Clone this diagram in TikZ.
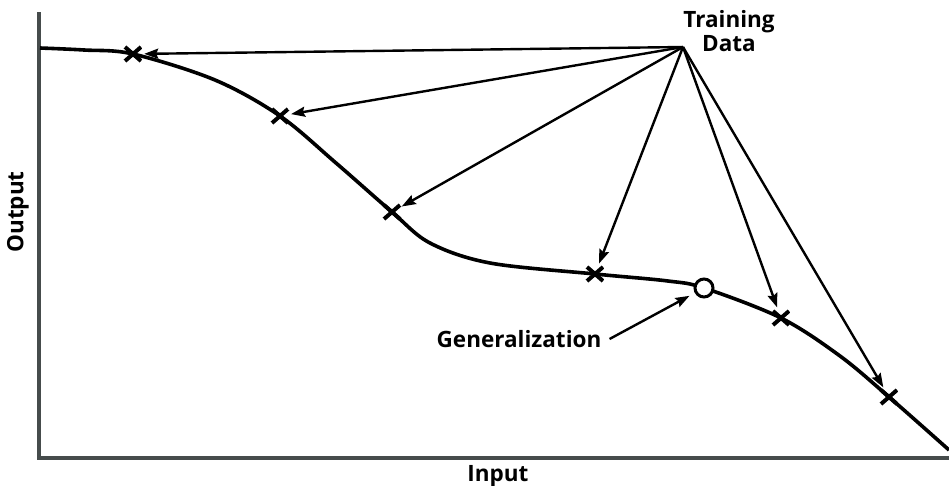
\documentclass[tikz,border=0pt]{standalone}
\usepackage{fontspec}
\setmainfont{Open Sans}
\usetikzlibrary{arrows.meta}
\definecolor{axisgray}{HTML}{464C4C}
\begin{document}
\begin{tikzpicture}[x=1pt, y=-1pt,
    every node/.style={inner sep=0.001, font=\bfseries\fontsize{22.5}{23}\selectfont},
    cross/.style={circle, minimum size=22pt, path picture={
        \draw[line width=4pt] ([shift={(-8,-7)}]path picture bounding box.center) -- ++(16,14);
        \draw[line width=4pt] ([shift={(-8,7)}]path picture bounding box.center) -- ++(16,-14);
      }},
    arrow/.style={-{Stealth[length=14pt, width=10pt, inset=2pt]}, line width=2.4pt}]
  \useasboundingbox (0,0) rectangle (949,485);

  % Axes
  \coordinate (origin) at (39,458);
  \coordinate (ytop) at (39,12);
  \coordinate (xend) at (949,458);
  \draw[axisgray, line width=4pt] (ytop) -- (origin) -- (xend);
  \node[rotate=90] (ylabel) at (18,212) {Output};
  \node (xlabel) at (498,476) {Input};

  % Curve points
  \foreach \x/\y [count=\i] in {40/48,84/50,133/54,215/80,280/116,336/163,
      392/212,430/243,490/263,595/274,668/281,704/288,781/318,
      840/356,889/397,949/450} {
    \coordinate (c\i) at (\x,\y);
  }
  \draw[line width=3.6pt] plot[smooth, tension=0.55] coordinates {
    (c1) (c2) (c3) (c4) (c5) (c6) (c7) (c8) (c9) (c10) (c11) (c12) (c13) (c14) (c15) (c16)};

  % Training points
  \foreach \c [count=\i] in {3,5,7,10,13,15} {
    \node[cross] (m\i) at (c\c) {};
  }
  \node[circle, draw, line width=3pt, fill=white, minimum size=18pt] (gpoint) at (c12) {};

  % Arrows from the training data
  \node[align=center] (train) at (729,31) {Training\\[1pt]Data};
  \coordinate (src) at (683,47);
  \foreach \i in {1,...,6} {
    \draw[arrow] (src) -- (m\i);
  }

  % Generalization label
  \node (gen) at (519,339) {Generalization};
  \draw[arrow, shorten >=6pt] ([xshift=8pt]gen.east) -- (gpoint);
\end{tikzpicture}
\end{document}
